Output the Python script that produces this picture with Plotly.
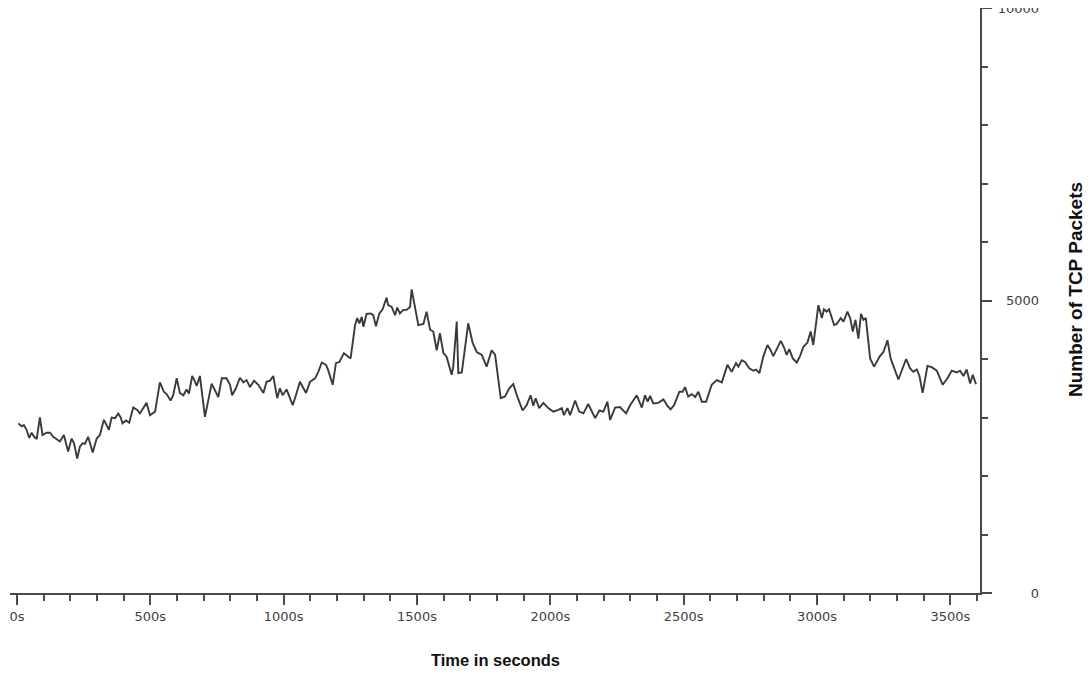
import plotly.graph_objects as go

# Time (seconds) and number of TCP packets
time_s = [5, 18, 26, 36, 46, 55, 65, 74, 86, 96, 111, 124, 136, 149, 161, 176, 192, 205, 214, 226,
          236, 246, 255, 267, 284, 299, 311, 326, 336, 345, 355, 368, 380, 389, 396, 409, 421, 436, 451, 461,
          486, 499, 518, 536, 551, 561, 576, 586, 599, 611, 624, 636, 645, 657, 665, 674, 686, 705, 730, 743,
          755, 768, 786, 799, 807, 821, 836, 849, 861, 874, 889, 905, 924, 936, 949, 961, 976, 986, 996, 1011,
          1021, 1034, 1046, 1061, 1084, 1099, 1118, 1130, 1143, 1159, 1167, 1184, 1196, 1209, 1226, 1239, 1251, 1268, 1276, 1284,
          1293, 1299, 1311, 1326, 1336, 1346, 1359, 1371, 1386, 1392, 1405, 1418, 1426, 1436, 1449, 1461, 1474, 1480, 1499, 1505,
          1524, 1536, 1549, 1561, 1574, 1586, 1599, 1611, 1630, 1636, 1649, 1655, 1668, 1684, 1692, 1709, 1724, 1743, 1761, 1780,
          1793, 1814, 1830, 1846, 1861, 1876, 1896, 1911, 1926, 1936, 1945, 1958, 1974, 1992, 2011, 2030, 2043, 2051, 2064, 2074,
          2093, 2108, 2124, 2142, 2168, 2184, 2199, 2214, 2224, 2243, 2261, 2284, 2299, 2324, 2343, 2355, 2365, 2374, 2386, 2405,
          2424, 2439, 2451, 2464, 2484, 2496, 2505, 2517, 2530, 2543, 2555, 2568, 2584, 2605, 2624, 2643, 2664, 2680, 2696, 2705,
          2718, 2730, 2746, 2761, 2771, 2784, 2799, 2814, 2826, 2836, 2849, 2864, 2876, 2886, 2896, 2909, 2924, 2936, 2949, 2964,
          2976, 2986, 3005, 3018, 3026, 3036, 3045, 3064, 3074, 3089, 3099, 3114, 3124, 3134, 3144, 3155, 3165, 3174, 3183, 3199,
          3214, 3236, 3249, 3264, 3276, 3293, 3305, 3334, 3349, 3361, 3374, 3384, 3396, 3414, 3430, 3449, 3471, 3489, 3505, 3524,
          3536, 3549, 3561, 3574, 3584, 3596]

tcp_packets = [2900, 2850, 2870, 2790, 2650, 2740, 2670, 2630, 3000, 2700, 2740, 2740, 2670, 2620, 2590, 2700, 2420, 2640, 2560, 2300,
               2500, 2560, 2550, 2670, 2400, 2640, 2700, 2960, 2870, 2790, 3000, 2990, 3070, 3000, 2900, 2950, 2910, 3170, 3130, 3070,
               3250, 3040, 3100, 3600, 3440, 3400, 3290, 3380, 3670, 3420, 3380, 3480, 3410, 3710, 3640, 3540, 3710, 3010, 3580, 3470,
               3350, 3670, 3670, 3560, 3380, 3500, 3680, 3600, 3640, 3520, 3630, 3560, 3420, 3610, 3630, 3710, 3330, 3500, 3380, 3480,
               3360, 3210, 3380, 3610, 3420, 3610, 3670, 3780, 3940, 3900, 3810, 3560, 3930, 3950, 4100, 4050, 4010, 4580, 4700, 4610,
               4720, 4550, 4770, 4780, 4750, 4560, 4780, 4850, 5050, 4920, 4890, 4750, 4880, 4780, 4840, 4840, 4890, 5190, 4750, 4580,
               4600, 4810, 4500, 4470, 4150, 4440, 4100, 4040, 3730, 3870, 4640, 3760, 3770, 4350, 4610, 4270, 4120, 4070, 3870, 4150,
               4070, 3330, 3360, 3500, 3570, 3360, 3120, 3210, 3380, 3200, 3330, 3160, 3250, 3160, 3100, 3130, 3160, 3040, 3160, 3040,
               3290, 3100, 3070, 3230, 2990, 3120, 3100, 3270, 2960, 3170, 3180, 3070, 3210, 3380, 3170, 3380, 3270, 3370, 3240, 3250,
               3310, 3200, 3140, 3210, 3440, 3440, 3520, 3360, 3400, 3350, 3440, 3270, 3270, 3560, 3640, 3600, 3900, 3780, 3930, 3870,
               3980, 3950, 3840, 3800, 3820, 3760, 4050, 4240, 4150, 4050, 4180, 4310, 4200, 4070, 4170, 4010, 3940, 4050, 4210, 4280,
               4470, 4240, 4920, 4700, 4850, 4810, 4850, 4580, 4600, 4700, 4640, 4810, 4700, 4470, 4670, 4350, 4770, 4670, 4700, 4010,
               3870, 4050, 4120, 4320, 4010, 3810, 3650, 4000, 3840, 3780, 3820, 3710, 3420, 3880, 3860, 3800, 3560, 3670, 3800, 3770,
               3800, 3710, 3820, 3580, 3730, 3570]

y_tick_values = [0, 5000, 10000]
y_tick_labels = ["0", "5000", "10000"]

AXIS_COLOR = "#4a4a4a"
TICK_FONT = dict(family="DejaVu Sans", size=13, color="#3f3f3f")

fig = go.Figure()
fig.add_trace(go.Scatter(
    x=time_s, y=tcp_packets, mode="lines",
    line=dict(color="#3a3a3a", width=1.9),
    showlegend=False, hoverinfo="x+y",
))
# invisible trace so the label axis is drawn
fig.add_trace(go.Scatter(x=[None], y=[None], yaxis="y2", showlegend=False, hoverinfo="skip"))

# The page body has an 8px margin, so the figure is placed 8px in from the page corner
W, H = 1083, 665
ML, MR, MT, MB = 2, 40, 0, 80
paper_w = W - ML - MR
plot_h = H - MT - MB
plot_right_px = 972

fig.update_layout(
    width=W, height=H,
    margin=dict(l=ML, r=MR, t=MT, b=MB, autoexpand=False),
    plot_bgcolor="white", paper_bgcolor="white",
    xaxis=dict(
        domain=[0, (plot_right_px - ML) / paper_w],
        range=[-26, 3611], automargin=False,
        showgrid=False, zeroline=False,
        showline=True, linecolor=AXIS_COLOR, linewidth=2,
        ticks="outside", ticklen=10, tickwidth=2, tickcolor=AXIS_COLOR,
        tick0=0, dtick=500, ticksuffix="s",
        minor=dict(ticks="outside", dtick=100, ticklen=6, tickwidth=1.5, tickcolor=AXIS_COLOR, showgrid=False),
        tickfont=TICK_FONT,
    ),
    yaxis=dict(
        side="right", anchor="x",
        range=[0, 10000], automargin=False,
        showgrid=False, zeroline=False,
        showline=True, linecolor=AXIS_COLOR, linewidth=2,
        ticks="outside", ticklen=10, tickwidth=2, tickcolor=AXIS_COLOR,
        tick0=0, dtick=5000,
        minor=dict(ticks="outside", dtick=1000, ticklen=6, tickwidth=1.5, tickcolor=AXIS_COLOR, showgrid=False),
        showticklabels=False,
    ),
    yaxis2=dict(
        overlaying="y", side="left", anchor="free",
        position=(1031 - ML) / paper_w,
        range=[0, 10000], automargin=False,
        showgrid=False, zeroline=False, showline=False,
        ticks="", tickvals=y_tick_values, ticktext=y_tick_labels,
        ticklabeloverflow="allow",
        tickfont=TICK_FONT,
    ),
    annotations=[
        dict(text="<b>Time in seconds</b>", xref="paper", yref="paper",
             x=(487 - ML) / paper_w, y=-(652 - (H - MB)) / plot_h,
             xanchor="center", yanchor="middle", showarrow=False,
             font=dict(family="Liberation Sans", size=16.5, color="#111111")),
        dict(text="<b>Number of TCP Packets</b>", xref="paper", yref="paper",
             x=(1067 - ML) / paper_w, y=1 - (282 - MT) / plot_h, textangle=-90,
             xanchor="center", yanchor="middle", showarrow=False,
             font=dict(family="Liberation Sans", size=19, color="#111111")),
    ],
)

fig.write_html("out.html")
